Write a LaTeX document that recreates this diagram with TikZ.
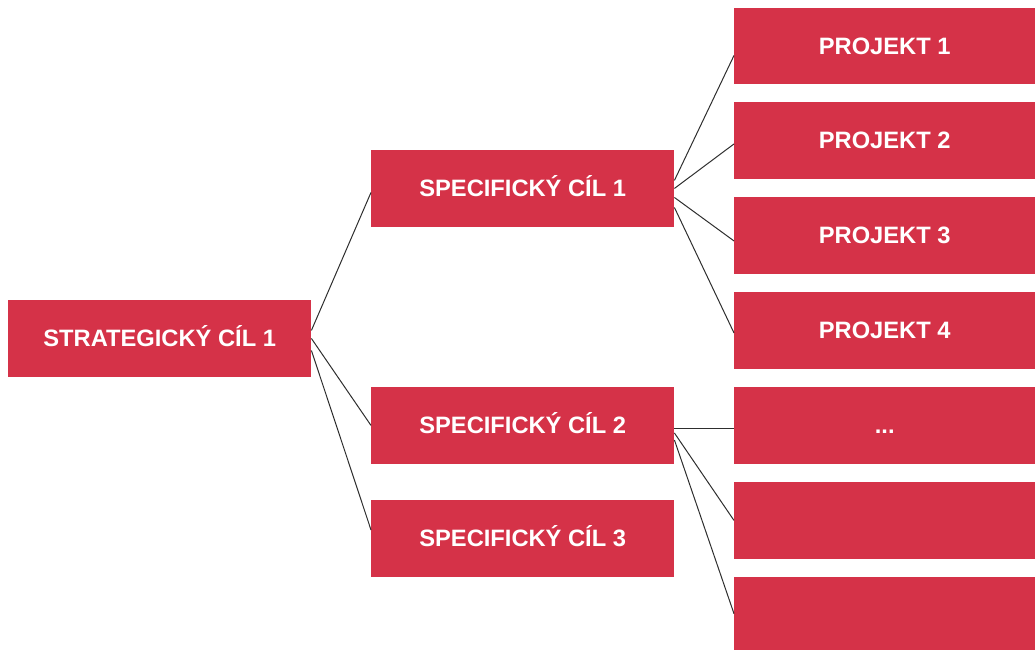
\documentclass[tikz,border=0pt]{standalone}
\usepackage{fontspec}
\setmainfont{Liberation Sans}
\definecolor{boxred}{HTML}{D53248}
\definecolor{linegray}{HTML}{2E2E2E}
\tikzset{
  box/.style={fill=boxred, draw=none, inner sep=0pt, anchor=north west,
    minimum width=303pt, minimum height=76.5pt, text=white,
    font=\fontsize{23.7}{26}\selectfont\bfseries, text height=17pt, text depth=0pt, align=center},
  pbox/.style={box, minimum width=301pt},
  conn/.style={draw=linegray, line width=1pt}
}
\begin{document}
\begin{tikzpicture}[x=1pt,y=-1pt]
\useasboundingbox (0,0) rectangle (1035,650);
\node[box] (st) at (8,300) {STRATEGICKÝ CÍL 1};
\node[box] (s1) at (371,150) {SPECIFICKÝ CÍL 1};
\node[box] (s2) at (371,387) {SPECIFICKÝ CÍL 2};
\node[box] (s3) at (371,500) {SPECIFICKÝ CÍL 3};
\node[pbox] (p1) at (734,7.5) {PROJEKT 1};
\node[pbox] (p2) at (734,102) {PROJEKT 2};
\node[pbox] (p3) at (734,197) {PROJEKT 3};
\node[pbox] (p4) at (734,292) {PROJEKT 4};
\node[pbox] (p5) at (734,387) {...};
\node[pbox] (p6) at (734,482) {};
\node[pbox, minimum height=73pt] (p7) at (734,577) {};
% strategic -> specific
\draw[conn] ([yshift=8pt]st.east) -- ([yshift=-4pt]s1.west);
\draw[conn] (st.east) -- (s2.west);
\draw[conn] ([yshift=-12pt]st.east) -- ([yshift=8.5pt]s3.west);
% specific 1 -> projects
\draw[conn] ([yshift=8pt]s1.east) -- ([yshift=-9.5pt]p1.west);
\draw[conn] ([yshift=0pt]s1.east) -- ([yshift=-3.5pt]p2.west);
\draw[conn] ([yshift=-9pt]s1.east) -- ([yshift=-5.5pt]p3.west);
\draw[conn] ([yshift=-19pt]s1.east) -- ([yshift=-2.5pt]p4.west);
% specific 2 -> projects
\draw[conn] ([yshift=-3.5pt]s2.east) -- ([yshift=-3.5pt]p5.west);
\draw[conn] ([yshift=-7.5pt]s2.east) -- (p6.west);
\draw[conn] ([yshift=-14.5pt]s2.east) -- ([yshift=0pt]p7.west);
\end{tikzpicture}
\end{document}
